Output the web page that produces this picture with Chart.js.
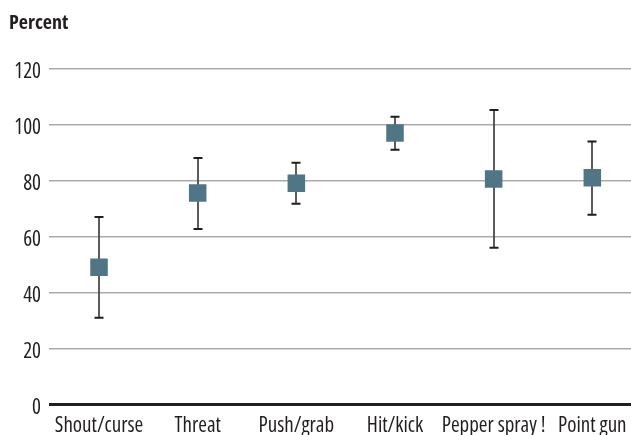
<!DOCTYPE html>
<html>
<head>
<meta charset="utf-8">
<script src="https://cdn.jsdelivr.net/npm/chart.js@4"></script>
<style>
  body { margin: 0; background: #fff; overflow: hidden; }
  canvas { display: block; }
</style>
</head>
<body>
<canvas id="chart" width="631" height="435"></canvas>
<script>
const categories = ['Shout/curse', 'Threat', 'Push/grab', 'Hit/kick', 'Pepper spray !', 'Point gun'];
const means = [49, 75.5, 79, 97, 80.5, 81];
const lower = [31, 62.7, 71.7, 91, 56, 67.8];
const upper = [67, 88, 86.3, 102.8, 105.2, 93.9];
const yTicks = [0, 20, 40, 60, 80, 100, 120];

const FAMILY = '"Open Sans", sans-serif';
const TEXT = '#231f20';

// whiskers go under the squares, placed through the chart scales
const errorBars = {
  id: 'errorBars',
  beforeDatasetsDraw(chart) {
    const { ctx, scales: { x, y } } = chart;
    ctx.save();
    categories.forEach((c, i) => {
      const px = Math.round(x.getPixelForValue(i));
      const top = y.getPixelForValue(upper[i]);
      const bot = y.getPixelForValue(lower[i]);
      ctx.strokeStyle = '#4a4a4a';
      ctx.lineWidth = 1.8;
      ctx.beginPath();
      ctx.moveTo(px, top);
      ctx.lineTo(px, bot);
      ctx.stroke();
      ctx.strokeStyle = '#1e1e1e';
      ctx.lineWidth = 2;
      ctx.beginPath();
      ctx.moveTo(px - 4.5, top);
      ctx.lineTo(px + 4.5, top);
      ctx.moveTo(px - 4.5, bot);
      ctx.lineTo(px + 4.5, bot);
      ctx.stroke();
    });
    ctx.restore();
  }
};

new Chart(document.getElementById('chart'), {
  type: 'scatter',
  data: {
    datasets: [{
      data: means.map((v, i) => ({ x: i, y: v })),
      backgroundColor: '#507686',
      borderWidth: 0,
      pointStyle: 'rect',
      pointRadius: 12.4,
      pointHoverRadius: 12.4,
    }],
  },
  options: {
    responsive: false,
    animation: false,
    layout: { autoPadding: false, padding: { left: 9, right: 0, top: 0, bottom: 0 } },
    plugins: {
      legend: { display: false },
      tooltip: { enabled: false },
      title: {
        display: true,
        text: 'Percent',
        align: 'start',
        color: TEXT,
        font: { family: FAMILY, size: 20, weight: '700 condensed', lineHeight: 1.2 },
        padding: { top: 11.5, bottom: 33 },
      },
    },
    scales: {
      x: {
        type: 'linear',
        min: -0.507,
        max: 5.392,
        afterBuildTicks: (s) => { s.ticks = categories.map((c, i) => ({ value: i })); },
        afterFit: (s) => { s.height = 30.5; s.paddingLeft = 0; s.paddingRight = 0; },
        grid: { display: false, drawTicks: false },
        border: { display: false },
        ticks: {
          autoSkip: false,
          maxRotation: 0,
          padding: 9,
          color: TEXT,
          font: { family: FAMILY, size: 21, weight: '400 condensed' },
          callback: (v) => categories[v],
        },
      },
      y: {
        min: 0,
        max: 120,
        afterBuildTicks: (s) => { s.ticks = yTicks.map((v) => ({ value: v })); },
        afterFit: (s) => { s.width = 40; },
        grid: {
          drawTicks: false,
          color: (c) => (c.tick && c.tick.value === 0 ? '#231f20' : '#ababab'),
          lineWidth: (c) => (c.tick && c.tick.value === 0 ? 3 : 1.5),
        },
        border: { display: false },
        ticks: {
          padding: 8,
          labelOffset: 4,
          color: TEXT,
          font: { family: FAMILY, size: 21, weight: '400 condensed' },
        },
      },
    },
  },
  plugins: [errorBars],
});
</script>
</body>
</html>
